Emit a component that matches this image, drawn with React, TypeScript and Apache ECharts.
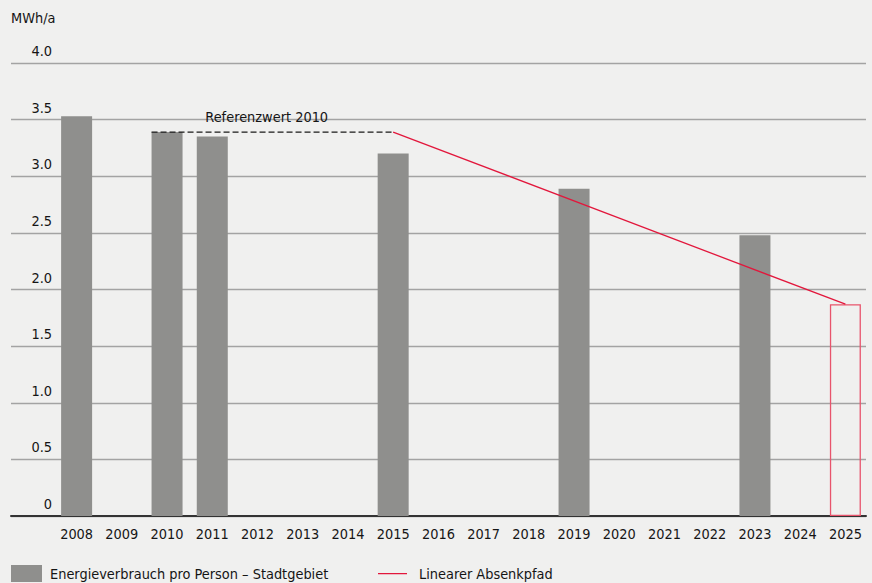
import React, { useEffect, useRef } from "react";
import * as echarts from "echarts";

const years = ["2008","2009","2010","2011","2012","2013","2014","2015","2016","2017","2018","2019","2020","2021","2022","2023","2024","2025"];
const consumption = [3.53, null, 3.39, 3.35, null, null, null, 3.2, null, null, null, 2.89, null, null, null, 2.48, null, null];
const target2025 = [null, null, null, null, null, null, null, null, null, null, null, null, null, null, null, null, null, 1.87];
const absenkpfad = [null, null, null, null, null, null, null, 3.39, null, null, null, null, null, null, null, null, null, 1.87];
const referenceValue = 3.39;
const referenceStartIndex = 2; // 2010
const referenceEndIndex = 7; // 2015
const yTicks = ["0", "0.5", "1.0", "1.5", "2.0", "2.5", "3.0", "3.5", "4.0"];

const FONT = "'Liberation Sans Narrow', 'DejaVu Sans Condensed', 'Roboto', sans-serif";
const FS = 14.4;
const TXT = "#151515";
const BAR_COLOR = "#8f8f8d";
const RED = "#e2173c";
const SERIES_BAR = "Energieverbrauch pro Person – Stadtgebiet";
const SERIES_LINE = "Linearer Absenkpfad";

export default function App() {
  const ref = useRef<HTMLDivElement>(null);
  useEffect(() => {
    const chart = echarts.init(ref.current!, null, { renderer: "svg" });
    const barHalf = 0.343;
    chart.setOption({
      animation: false,
      backgroundColor: "#f0f0ef",
      textStyle: { fontFamily: FONT },
      grid: [
        { left: 11, right: 6, top: 63, bottom: 67 },
        { left: 54, right: 4, top: 63, bottom: 67 },
      ],
      legend: [
        {
          left: 11,
          top: 565,
          padding: 0,
          itemWidth: 31,
          itemHeight: 17,
          data: [{ name: SERIES_BAR, icon: "rect" }],
          textStyle: { fontFamily: FONT, fontSize: FS, color: TXT, padding: [0, 0, 0, 3] },
        },
        {
          left: 378,
          top: 565,
          padding: 0,
          itemWidth: 29,
          itemHeight: 17,
          data: [{ name: SERIES_LINE, icon: "path://M0,0L0.01,0M0,8H29V9.3H0ZM29,17L28.99,17" }],
          textStyle: { fontFamily: FONT, fontSize: FS, color: TXT, padding: [0, 0, 0, 7] },
        },
      ],
      xAxis: [
        {
          gridIndex: 0, type: "value", min: 0, max: 1, show: true,
          axisLine: { show: true, lineStyle: { color: "#333", width: 2 } },
          axisTick: { show: false }, axisLabel: { show: false }, splitLine: { show: false },
        },
        {
          gridIndex: 1, type: "category", data: years, boundaryGap: true,
          axisLine: { show: false }, axisTick: { show: false },
          axisLabel: { fontFamily: FONT, fontSize: FS, color: TXT, margin: 11 },
        },
        {
          gridIndex: 1, type: "value", min: -0.5, max: years.length - 0.5, show: false,
        },
      ],
      yAxis: [
        {
          gridIndex: 0, type: "value", min: 0, max: 4, interval: 0.5,
          name: "MWh/a",
          nameLocation: "end",
          nameGap: 38,
          nameTextStyle: { fontFamily: FONT, fontSize: FS, color: TXT, align: "left" },
          axisLine: { show: false }, axisTick: { show: false },
          axisLabel: {
            fontFamily: FONT, fontSize: FS, color: TXT, margin: -41,
            verticalAlign: "bottom", padding: [0, 0, 5, 0],
            formatter: (v: number) => yTicks[Math.round(v / 0.5)],
          },
          splitLine: { show: true, lineStyle: { color: "#a3a3a3", width: 1.3 } },
        },
        { gridIndex: 1, type: "value", min: 0, max: 4, show: false },
      ],
      series: [
        {
          name: SERIES_BAR,
          type: "bar", xAxisIndex: 1, yAxisIndex: 1,
          data: consumption, barWidth: 31, barGap: "-100%",
          itemStyle: { color: BAR_COLOR },
        },
        {
          name: "Ziel 2025",
          type: "bar", xAxisIndex: 1, yAxisIndex: 1,
          data: target2025, barWidth: 31, barGap: "-100%",
          itemStyle: { color: "rgba(0,0,0,0)", borderColor: "#e8546c", borderWidth: 1.3 },
        },
        {
          name: SERIES_LINE,
          type: "line", xAxisIndex: 1, yAxisIndex: 1,
          data: absenkpfad, connectNulls: true, symbol: "none",
          lineStyle: { color: RED, width: 1.3 },
          itemStyle: { color: RED },
          z: 5,
        },
        {
          name: "Referenzwert",
          type: "line", xAxisIndex: 2, yAxisIndex: 1,
          data: [
            [referenceStartIndex - barHalf, referenceValue],
            [referenceEndIndex, referenceValue],
          ],
          symbol: "none",
          lineStyle: { color: "#1a1a1a", width: 1.3, type: [6, 3] },
          markLine: {
            silent: true, symbol: "none",
            lineStyle: { color: "rgba(0,0,0,0)", width: 0 },
            label: {
              show: true, position: "middle", distance: 8,
              formatter: "Referenzwert 2010",
              fontFamily: FONT, fontSize: FS, color: TXT,
            },
            data: [[
              { coord: [referenceStartIndex - barHalf - 0.25, referenceValue] },
              { coord: [referenceEndIndex, referenceValue] },
            ]],
          },
          z: 6,
        },
      ],
    });
    return () => chart.dispose();
  }, []);
  return <div ref={ref} style={{ width: 872, height: 583, position: "absolute", left: 0, top: 0 }} />;
}
